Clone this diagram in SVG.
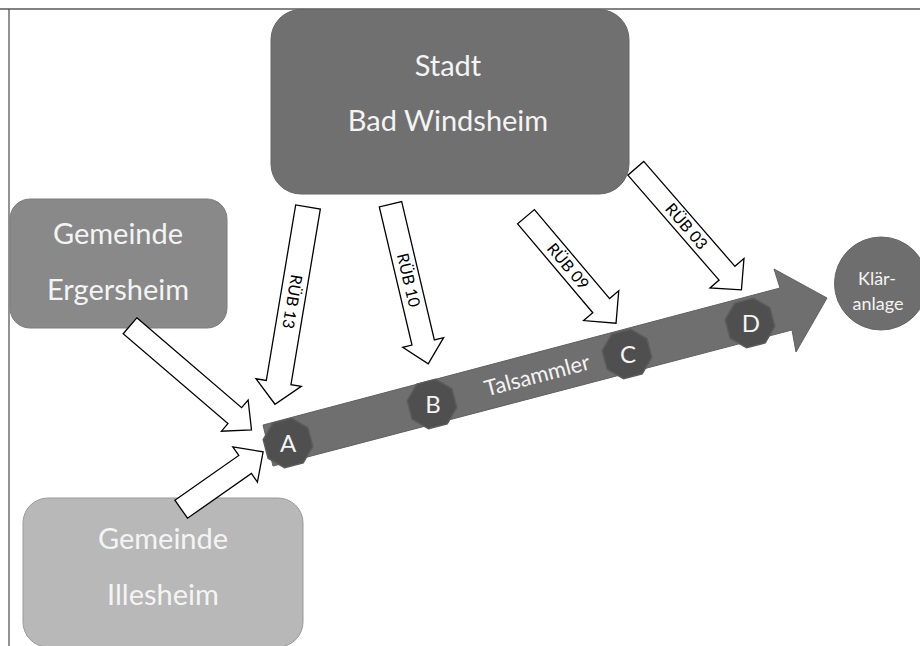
<svg xmlns="http://www.w3.org/2000/svg" width="920" height="646" viewBox="0 0 920 646">
<style>
.lbl{font-family:Lato,"Open Sans","Liberation Sans",sans-serif;fill:#f4f4f4;text-anchor:middle}
.big{font-size:29px}
.rub{font-family:Lato,"Open Sans","Liberation Sans",sans-serif;font-size:16px;fill:#000;text-anchor:middle}
.wa{fill:#fff;stroke:#000;stroke-width:1.3;stroke-linejoin:miter}
.oct{fill:#4f4f4f;stroke:#5c5c5c;stroke-width:1.5}
</style>
<defs>
<polygon id="octa" points="9.6,-23.1 23.1,-9.6 23.1,9.6 9.6,23.1 -9.6,23.1 -23.1,9.6 -23.1,-9.6 -9.6,-23.1"/>
</defs>
<rect x="0" y="0" width="920" height="646" fill="#fff"/>
<g id="frame">
<line x1="0" y1="9" x2="920" y2="9" stroke="#5a5a5a" stroke-width="1.6"/>
<line x1="9" y1="9" x2="9" y2="646" stroke="#4a4a4a" stroke-width="1.2"/>
</g>
<g id="stadt">
<rect x="271" y="9.5" width="358" height="184.5" rx="30" ry="30" fill="#707070" stroke="#666" stroke-width="1"/>
<text class="lbl big" x="448" y="76">Stadt</text>
<text class="lbl big" x="448" y="131">Bad Windsheim</text>
</g>
<g id="ergersheim">
<rect x="10" y="199" width="217" height="129" rx="20" ry="20" fill="#898989" stroke="#7c7c7c" stroke-width="1"/>
<text class="lbl big" x="118" y="244">Gemeinde</text>
<text class="lbl big" x="118" y="300">Ergersheim</text>
</g>
<g id="illesheim">
<rect x="23" y="498" width="280" height="149" rx="25" ry="25" fill="#b8b8b8" stroke="#9a9a9a" stroke-width="1"/>
<text class="lbl big" x="163" y="549">Gemeinde</text>
<text class="lbl big" x="163" y="605">Illesheim</text>
</g>
<g id="klaeranlage">
<circle cx="881" cy="283.5" r="46.5" fill="#6e6e6e" stroke="#666" stroke-width="1"/>
<text class="lbl" x="877" y="285" font-size="18">Klär-</text>
<text class="lbl" x="878" y="310" font-size="18">anlage</text>
</g>
<g id="connectors">
<g id="talsammler">
<polygon points="263,425 780,288 774,269 827,298 796,352 792,330 273,466" fill="#6f6f6f" stroke="#606060" stroke-width="1"/>
<text class="lbl" font-size="22" transform="translate(537,375) rotate(-14.75)" x="0" y="8">Talsammler</text>
</g>
<g id="rub13">
<polygon class="wa" transform="translate(308,207) rotate(99.5)" points="0,-12.5 178,-12.5 178,-23 200,0 178,23 178,12.5 0,12.5"/>
<text class="rub" transform="translate(308,207) rotate(99.5)" x="96" y="5.5">RÜB 13</text>
</g>
<g id="rub10">
<polygon class="wa" transform="translate(390.5,204.3) rotate(76.7)" points="0,-11.5 142,-11.5 142,-21 164,0 142,21 142,11.5 0,11.5"/>
<text class="rub" transform="translate(390.5,204.3) rotate(76.7)" x="78" y="5.5">RÜB 10</text>
</g>
<g id="rub09">
<polygon class="wa" transform="translate(526,216.7) rotate(49.8)" points="0,-11 116.5,-11 116.5,-23 139.5,0 116.5,23 116.5,11 0,11"/>
<text class="rub" transform="translate(526,216.7) rotate(49.8)" x="65" y="5.5">RÜB 09</text>
</g>
<g id="rub03">
<polygon class="wa" transform="translate(635.8,168.3) rotate(49)" points="0,-10.5 139,-10.5 139,-22.5 161,0 139,22.5 139,10.5 0,10.5"/>
<text class="rub" transform="translate(635.8,168.3) rotate(49)" x="77" y="5.5">RÜB 03</text>
</g>
<g id="from-ergersheim">
<polygon class="wa" transform="translate(130,325.8) rotate(40.6)" points="0,-10.5 138,-10.5 138,-20.5 160,0 138,20.5 138,10.5 0,10.5"/>
</g>
<g id="from-illesheim">
<polygon class="wa" transform="translate(181.2,509.2) rotate(-35)" points="0,-11 78,-11 78,-21.5 100,0 78,21.5 78,11 0,11"/>
</g>
</g>
<g id="node-a">
<use href="#octa" class="oct" transform="translate(288,443) rotate(-14.75)"/>
<text class="lbl" font-size="24" x="288" y="451.5">A</text>
</g>
<g id="node-b">
<use href="#octa" class="oct" transform="translate(432,404) rotate(-14.75)"/>
<text class="lbl" font-size="24" x="433" y="412.5">B</text>
</g>
<g id="node-c">
<use href="#octa" class="oct" transform="translate(627,354) rotate(-14.75)"/>
<text class="lbl" font-size="24" x="628" y="362.5">C</text>
</g>
<g id="node-d">
<use href="#octa" class="oct" transform="translate(750,323) rotate(-14.75)"/>
<text class="lbl" font-size="24" x="751" y="331.5">D</text>
</g>
</svg>
